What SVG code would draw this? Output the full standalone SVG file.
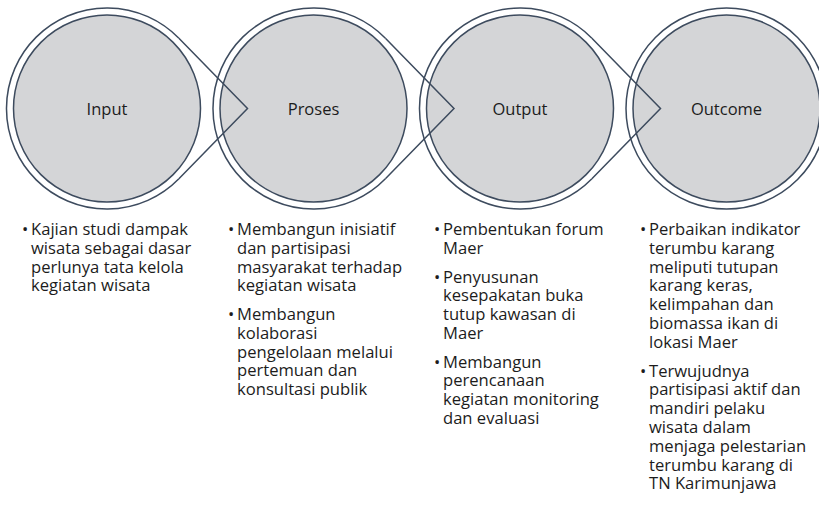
<svg xmlns="http://www.w3.org/2000/svg" width="819" height="508" viewBox="0 0 819 508">
<style>
.disc{fill:#d4d5d7;stroke:#3d4b5e;stroke-width:1.5}
.ring{fill:none;stroke:#3d4b5e;stroke-width:1.5}
.tail{fill:none;stroke:#3d4b5e;stroke-width:1.5;stroke-linejoin:miter}
.lbl{font-family:"Open Sans","Liberation Sans",sans-serif;font-size:16.5px;fill:#1c1c1c;text-anchor:middle}
.body{font-family:"Open Sans","Liberation Sans",sans-serif;font-size:16.6px;fill:#1c1c1c}
.bul{font-family:"Open Sans","Liberation Sans",sans-serif;font-size:16.6px;fill:#1c1c1c}
</style>
<rect width="819" height="508" fill="#ffffff"/>
<g id="node-input">
<circle class="disc" cx="107" cy="108.5" r="93.5"/>
<path class="ring" d="M178.9,178.7 A100.5,100.5 0 1 1 178.9,38.3"/>
<text class="lbl" x="107" y="114.5">Input</text>
<text class="bul" x="22" y="235">•</text>
<text class="body" x="31" y="235"><tspan x="31">Kajian studi dampak</tspan><tspan x="31" dy="18.8">wisata sebagai dasar</tspan><tspan x="31" dy="18.8">perlunya tata kelola</tspan><tspan x="31" dy="18.8">kegiatan wisata</tspan></text>
</g>
<g id="node-proses">
<circle class="disc" cx="313.5" cy="108.5" r="93.5"/>
<path class="ring" d="M385.4,178.7 A100.5,100.5 0 1 1 385.4,38.3"/>
<text class="lbl" x="313.5" y="114.5">Proses</text>
<text class="bul" x="228" y="235">•</text>
<text class="bul" x="228" y="320">•</text>
<text class="body" x="237" y="235"><tspan x="237">Membangun inisiatif</tspan><tspan x="237" dy="18.8">dan partisipasi</tspan><tspan x="237" dy="18.8">masyarakat terhadap</tspan><tspan x="237" dy="18.8">kegiatan wisata</tspan></text>
<text class="body" x="237" y="320"><tspan x="237">Membangun</tspan><tspan x="237" dy="18.8">kolaborasi</tspan><tspan x="237" dy="18.8">pengelolaan melalui</tspan><tspan x="237" dy="18.8">pertemuan dan</tspan><tspan x="237" dy="18.8">konsultasi publik</tspan></text>
</g>
<g id="node-output">
<circle class="disc" cx="520" cy="108.5" r="93.5"/>
<path class="ring" d="M591.9,178.7 A100.5,100.5 0 1 1 591.9,38.3"/>
<text class="lbl" x="520" y="114.5">Output</text>
<text class="bul" x="434" y="235">•</text>
<text class="bul" x="434" y="282.5">•</text>
<text class="bul" x="434" y="367.5">•</text>
<text class="body" x="443" y="235"><tspan x="443">Pembentukan forum</tspan><tspan x="443" dy="18.8">Maer</tspan></text>
<text class="body" x="443" y="282.5"><tspan x="443">Penyusunan</tspan><tspan x="443" dy="18.8">kesepakatan buka</tspan><tspan x="443" dy="18.8">tutup kawasan di</tspan><tspan x="443" dy="18.8">Maer</tspan></text>
<text class="body" x="443" y="367.5"><tspan x="443">Membangun</tspan><tspan x="443" dy="18.8">perencanaan</tspan><tspan x="443" dy="18.8">kegiatan monitoring</tspan><tspan x="443" dy="18.8">dan evaluasi</tspan></text>
</g>
<g id="node-outcome">
<circle class="disc" cx="726.5" cy="108.5" r="93.5"/>
<circle class="ring" cx="726.5" cy="108.5" r="100.5"/>
<text class="lbl" x="726.5" y="114.5">Outcome</text>
<text class="bul" x="640" y="235">•</text>
<text class="bul" x="640" y="376.5">•</text>
<text class="body" x="649" y="235"><tspan x="649">Perbaikan indikator</tspan><tspan x="649" dy="18.8">terumbu karang</tspan><tspan x="649" dy="18.8">meliputi tutupan</tspan><tspan x="649" dy="18.8">karang keras,</tspan><tspan x="649" dy="18.8">kelimpahan dan</tspan><tspan x="649" dy="18.8">biomassa ikan di</tspan><tspan x="649" dy="18.8">lokasi Maer</tspan></text>
<text class="body" x="649" y="376.5"><tspan x="649">Terwujudnya</tspan><tspan x="649" dy="18.8">partisipasi aktif dan</tspan><tspan x="649" dy="18.8">mandiri pelaku</tspan><tspan x="649" dy="18.8">wisata dalam</tspan><tspan x="649" dy="18.8">menjaga pelestarian</tspan><tspan x="649" dy="18.8">terumbu karang di</tspan><tspan x="649" dy="18.8">TN Karimunjawa</tspan></text>
</g>
<g id="connectors">
<polyline class="tail" points="178.9,38.3 247.5,108.5 178.9,178.7"/>
<polyline class="tail" points="385.4,38.3 454,108.5 385.4,178.7"/>
<polyline class="tail" points="591.9,38.3 660.5,108.5 591.9,178.7"/>
</g>
</svg>
